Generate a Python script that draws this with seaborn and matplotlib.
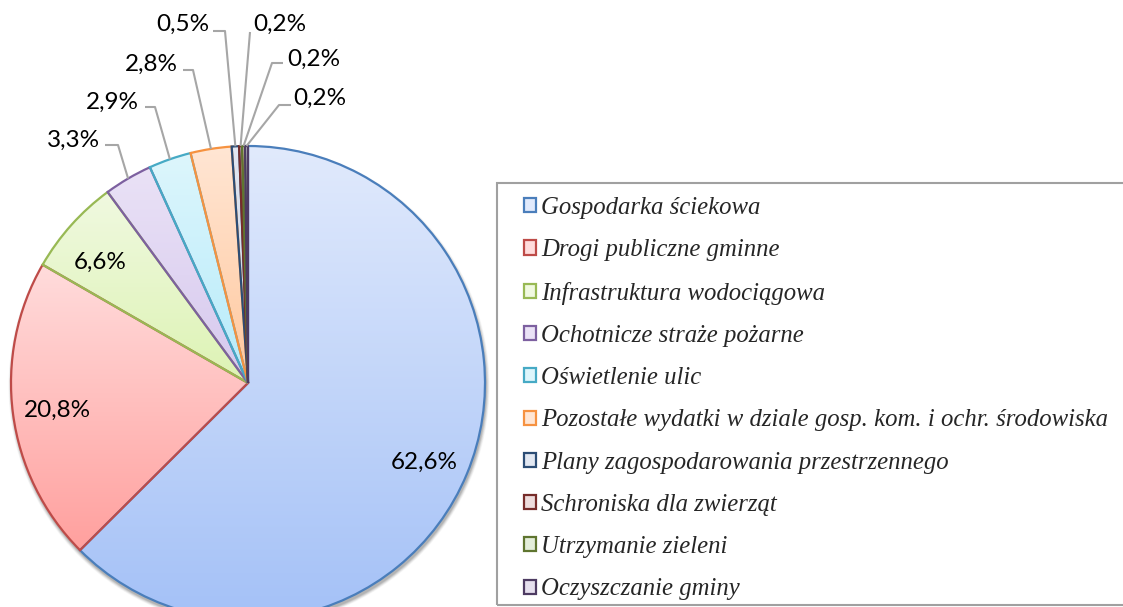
# Pie chart of municipal investment spending shares, Excel-style gradient slices
import numpy as np
import matplotlib
matplotlib.use("Agg")
import matplotlib.pyplot as plt
import seaborn as sns
from matplotlib.colors import to_rgb
from matplotlib.patches import Rectangle, Circle

categories = [
    "Gospodarka ściekowa",
    "Drogi publiczne gminne",
    "Infrastruktura wodociągowa",
    "Ochotnicze straże pożarne",
    "Oświetlenie ulic",
    "Pozostałe wydatki w dziale gosp. kom. i ochr. środowiska",
    "Plany zagospodarowania przestrzennego",
    "Schroniska dla zwierząt",
    "Utrzymanie zieleni",
    "Oczyszczanie gminy",
]
shares = [62.6, 20.8, 6.6, 3.3, 2.9, 2.8, 0.5, 0.2, 0.2, 0.2]

edge_colors = ["#4A7EBB", "#BE4B48", "#98B954", "#7D60A0", "#46AAC5",
               "#F69240", "#2C4D75", "#772C2A", "#5F7530", "#4D3B62"]
fill_top = ["#E1EAFC", "#FFDCDC", "#F0F9E0", "#EAE2F6", "#DDF6FC",
            "#FFE6D4", "#E2E8F2", "#EEDCDC", "#E4EEDA", "#E6E0EE"]
fill_bottom = ["#A4C1F7", "#FFA09E", "#DDF3B4", "#D6C8EE", "#B6EBFA",
               "#FFC89E", "#C4D0E4", "#DCB8B8", "#C8DCB4", "#CCC0DC"]

# label centres in pixels (from top-left), elbow of leader line (None = inside)
label_pos = [(424, 462), (57, 410), (100, 262), (74, 140), (112, 102),
             (151, 64), (183, 24), (280, 24), (314, 59), (320, 98)]
elbows = [None, None, None, ((118, 145), (105, 145)), ((155, 107), (145, 107)),
          ((193, 70), (183, 70)), ((225, 31), (213, 31)), ((250, 32), (250, 32)),
          ((272, 63), (283, 63)), ((279, 105), (291, 105))]

W, H = 1123, 607
sns.set_theme(style="white")
plt.rcParams["font.family"] = ["Lato", "DejaVu Sans"]

fig = plt.figure(figsize=(W / 100, H / 100), dpi=100)
ax = fig.add_axes([0, 0, 1, 1])

cx, cy, r = 248, H - 383, 237

# soft shadow under the pie
for k, a in zip(range(6, 0, -1), [0.03, 0.04, 0.05, 0.06, 0.07, 0.08]):
    ax.add_patch(Circle((cx + 1, cy - 3), r + k * 0.6, color="black", alpha=a,
                        lw=0, zorder=0))

wedges, _ = ax.pie(shares, colors=fill_top, startangle=90, counterclock=False,
                   center=(cx, cy), radius=r,
                   wedgeprops=dict(linewidth=1.6))
for w, ec in zip(wedges, edge_colors):
    w.set_edgecolor(ec)

leg = ax.legend(wedges, categories, loc="upper left",
                bbox_to_anchor=(524 / W, 1 - 197 / H), frameon=False,
                prop=dict(family="Liberation Serif", style="italic", size=17.8),
                handlelength=0.5, handleheight=0.5, handletextpad=0.2,
                labelspacing=0.82, borderpad=0, borderaxespad=0)

# gradient fill clipped to each wedge
for w, c0, c1 in zip(wedges, fill_top, fill_bottom):
    bb = w.get_path().get_extents()
    t = np.linspace(0, 1, 256)[:, None, None]
    grad = (1 - t) * np.array(to_rgb(c0)) + t * np.array(to_rgb(c1))
    im = ax.imshow(grad, extent=(bb.x0, bb.x1, bb.y0, bb.y1), origin="upper",
                   aspect="auto", interpolation="bilinear", zorder=1)
    im.set_clip_path(w)
    w.set_facecolor("none")
    w.set_zorder(2)

# percent labels and leader lines
total = sum(shares)
cum = 0
for v, pos, el in zip(shares, label_pos, elbows):
    mid = 90 - 360 * (cum + v / 2) / total
    cum += v
    txt = f"{v:.1f}%".replace(".", ",")
    if el is not None:
        ax_ = cx + r * np.cos(np.radians(mid))
        ay_ = cy + r * np.sin(np.radians(mid))
        (ex, ey), (hx, hy) = el
        ax.plot([ax_, ex, hx], [ay_, H - ey, H - hy], color="#A6A6A6",
                lw=1.5, zorder=3, solid_capstyle="butt")
    ax.text(pos[0], H - pos[1], txt, ha="center", va="center",
            fontsize=17.5, color="black", zorder=4)

# legend box
ax.add_patch(Rectangle((497, H - 605), 700, 422, fill=False,
                       edgecolor="#A0A0A0", lw=1.5, zorder=5))

ax.set_xlim(0, W)
ax.set_ylim(0, H)
ax.set_aspect("equal")
ax.axis("off")

fig.savefig("out.png", dpi=100)
